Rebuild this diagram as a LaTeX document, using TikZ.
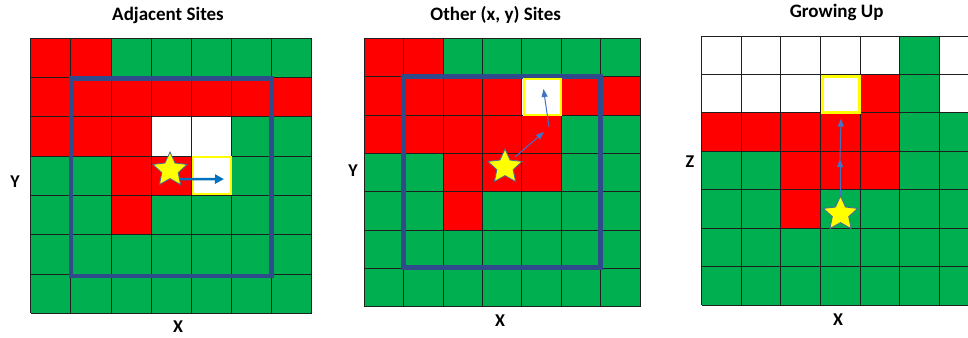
\documentclass[tikz,border=0pt]{standalone}
\usepackage{fontspec}
\setmainfont{Carlito}
\usetikzlibrary{shapes.geometric, arrows.meta, positioning}
\definecolor{siteR}{HTML}{FF0000}
\definecolor{siteG}{HTML}{00B050}
\definecolor{siteW}{HTML}{FFFFFF}
\definecolor{frm}{HTML}{2F4B8C}
\definecolor{ylw}{HTML}{FFFF00}
\definecolor{stl}{HTML}{4A6A96}
\definecolor{arb}{HTML}{0070C0}
\definecolor{arl}{HTML}{4472C4}
\tikzset{
  cell/.style   = {draw=black!88, line width=0.9pt},
  frame/.style  = {draw=frm, line width=4.5pt},
  tgt/.style    = {rectangle, draw=ylw, line width=2.2pt, inner sep=0pt},
  site/.style   = {star, star points=5, star point ratio=2.1, draw=stl,
                   fill=ylw, line width=0.8pt, minimum size=36pt, inner sep=0pt},
  ttl/.style    = {font=\fontsize{19}{22}\selectfont\bfseries},
  axl/.style    = {font=\fontsize{18}{21}\selectfont\bfseries},
  bigarr/.style = {-{Triangle[length=9pt,width=9pt]}, line width=2.5pt, color=arb},
  thinarr/.style= {-{Triangle[length=8pt,width=6pt]}, line width=1pt, color=arl},
}
% x0, y0, cell w, cell h, rows of colours (top to bottom)
\newcommand{\sitegrid}[5]{%
  \begin{scope}[shift={(#1,#2)}, x=#3pt, y=-#4pt]
    \foreach \cols [count=\r from 0] in {#5} {
      \foreach \c [count=\k from 0] in \cols {
        \fill[site\c] (\k,\r) rectangle ++(1,1);
      }
    }
    \foreach \i in {0,...,7} {
      \draw[cell] (\i,0) -- (\i,7);
      \draw[cell] (0,\i) -- (7,\i);
    }
  \end{scope}
}

\begin{document}
\begin{tikzpicture}[x=1pt, y=-1pt]
  \useasboundingbox (0,0) rectangle (968,337);

  % ── panel 1: adjacent sites
  \sitegrid{30.7}{38.3}{40.14}{39.3}{{R,R,G,G,G,G,G},{R,R,R,R,R,R,R},{R,R,R,W,W,G,G},
    {G,G,R,R,W,G,G},{G,G,R,G,G,G,G},{G,G,G,G,G,G,G},{G,G,G,G,G,G,G}}
  \draw[frame] (70.8,78.3) rectangle (271.5,276);
  \node[ttl] (ttlA) at (168,15) {Adjacent Sites};
  \node[axl] (yA) at (15,182) {Y};
  \node[axl] (xA) at (178,327) {X};
  \node[tgt, minimum width=38pt, minimum height=37pt] (tgtA) at (212,175.6) {};
  \draw[bigarr] (178,179) coordinate (fromA) -- ([shift={(12,3.5)}]tgtA.center);
  \node[site] (starA) at (170,170) {};

  % ── panel 2: other (x, y) sites
  \sitegrid{364.3}{38.3}{39.4}{38.34}{{R,R,G,G,G,G,G},{R,R,R,R,W,R,R},{R,R,R,R,R,G,G},
    {G,G,R,R,R,G,G},{G,G,R,G,G,G,G},{G,G,G,G,G,G,G},{G,G,G,G,G,G,G}}
  \draw[frame] (403.5,76.5) rectangle (600.5,267.5);
  \node[ttl] (ttlB) at (495.7,15) {Other (x, y) Sites};
  \node[axl] (yB) at (353,171) {Y};
  \node[axl] (xB) at (500,321) {X};
  \node[tgt, minimum width=37pt, minimum height=36pt] (tgtB) at (542.5,97) {};
  \node[site] (starB) at (505,167) {};
  \coordinate (midB) at (549,127);
  \draw[thinarr] ([shift={(10,-10)}]starB.center) -- ([shift={(-5,5)}]midB);
  \draw[thinarr] (midB) -- ([shift={(1,-8)}]tgtB.center);

  % ── panel 3: growing up
  \begin{scope}
    \clip (690,30) rectangle (968,310);
    \sitegrid{701.7}{36}{39.6}{38.43}{{W,W,W,W,W,G,W},{W,W,W,W,R,G,W},{R,R,R,R,R,G,G},
      {G,G,R,R,R,G,G},{G,G,R,G,G,G,G},{G,G,G,G,G,G,G},{G,G,G,G,G,G,G}}
  \end{scope}
  \node[ttl] (ttlC) at (836.7,12.5) {Growing Up};
  \node[axl] (zC) at (690,162) {Z};
  \node[axl] (xC) at (838,320) {X};
  \node[tgt, minimum width=37pt, minimum height=36pt] (tgtC) at (841,94.5) {};
  \coordinate (midC) at (840,159);
  \draw[thinarr] (840,200) coordinate (fromC) -- (midC);
  \draw[thinarr] (midC) -- ([yshift=-5pt]tgtC.south);
  \node[site] (starC) at (840.5,214) {};

\end{tikzpicture}
\end{document}
